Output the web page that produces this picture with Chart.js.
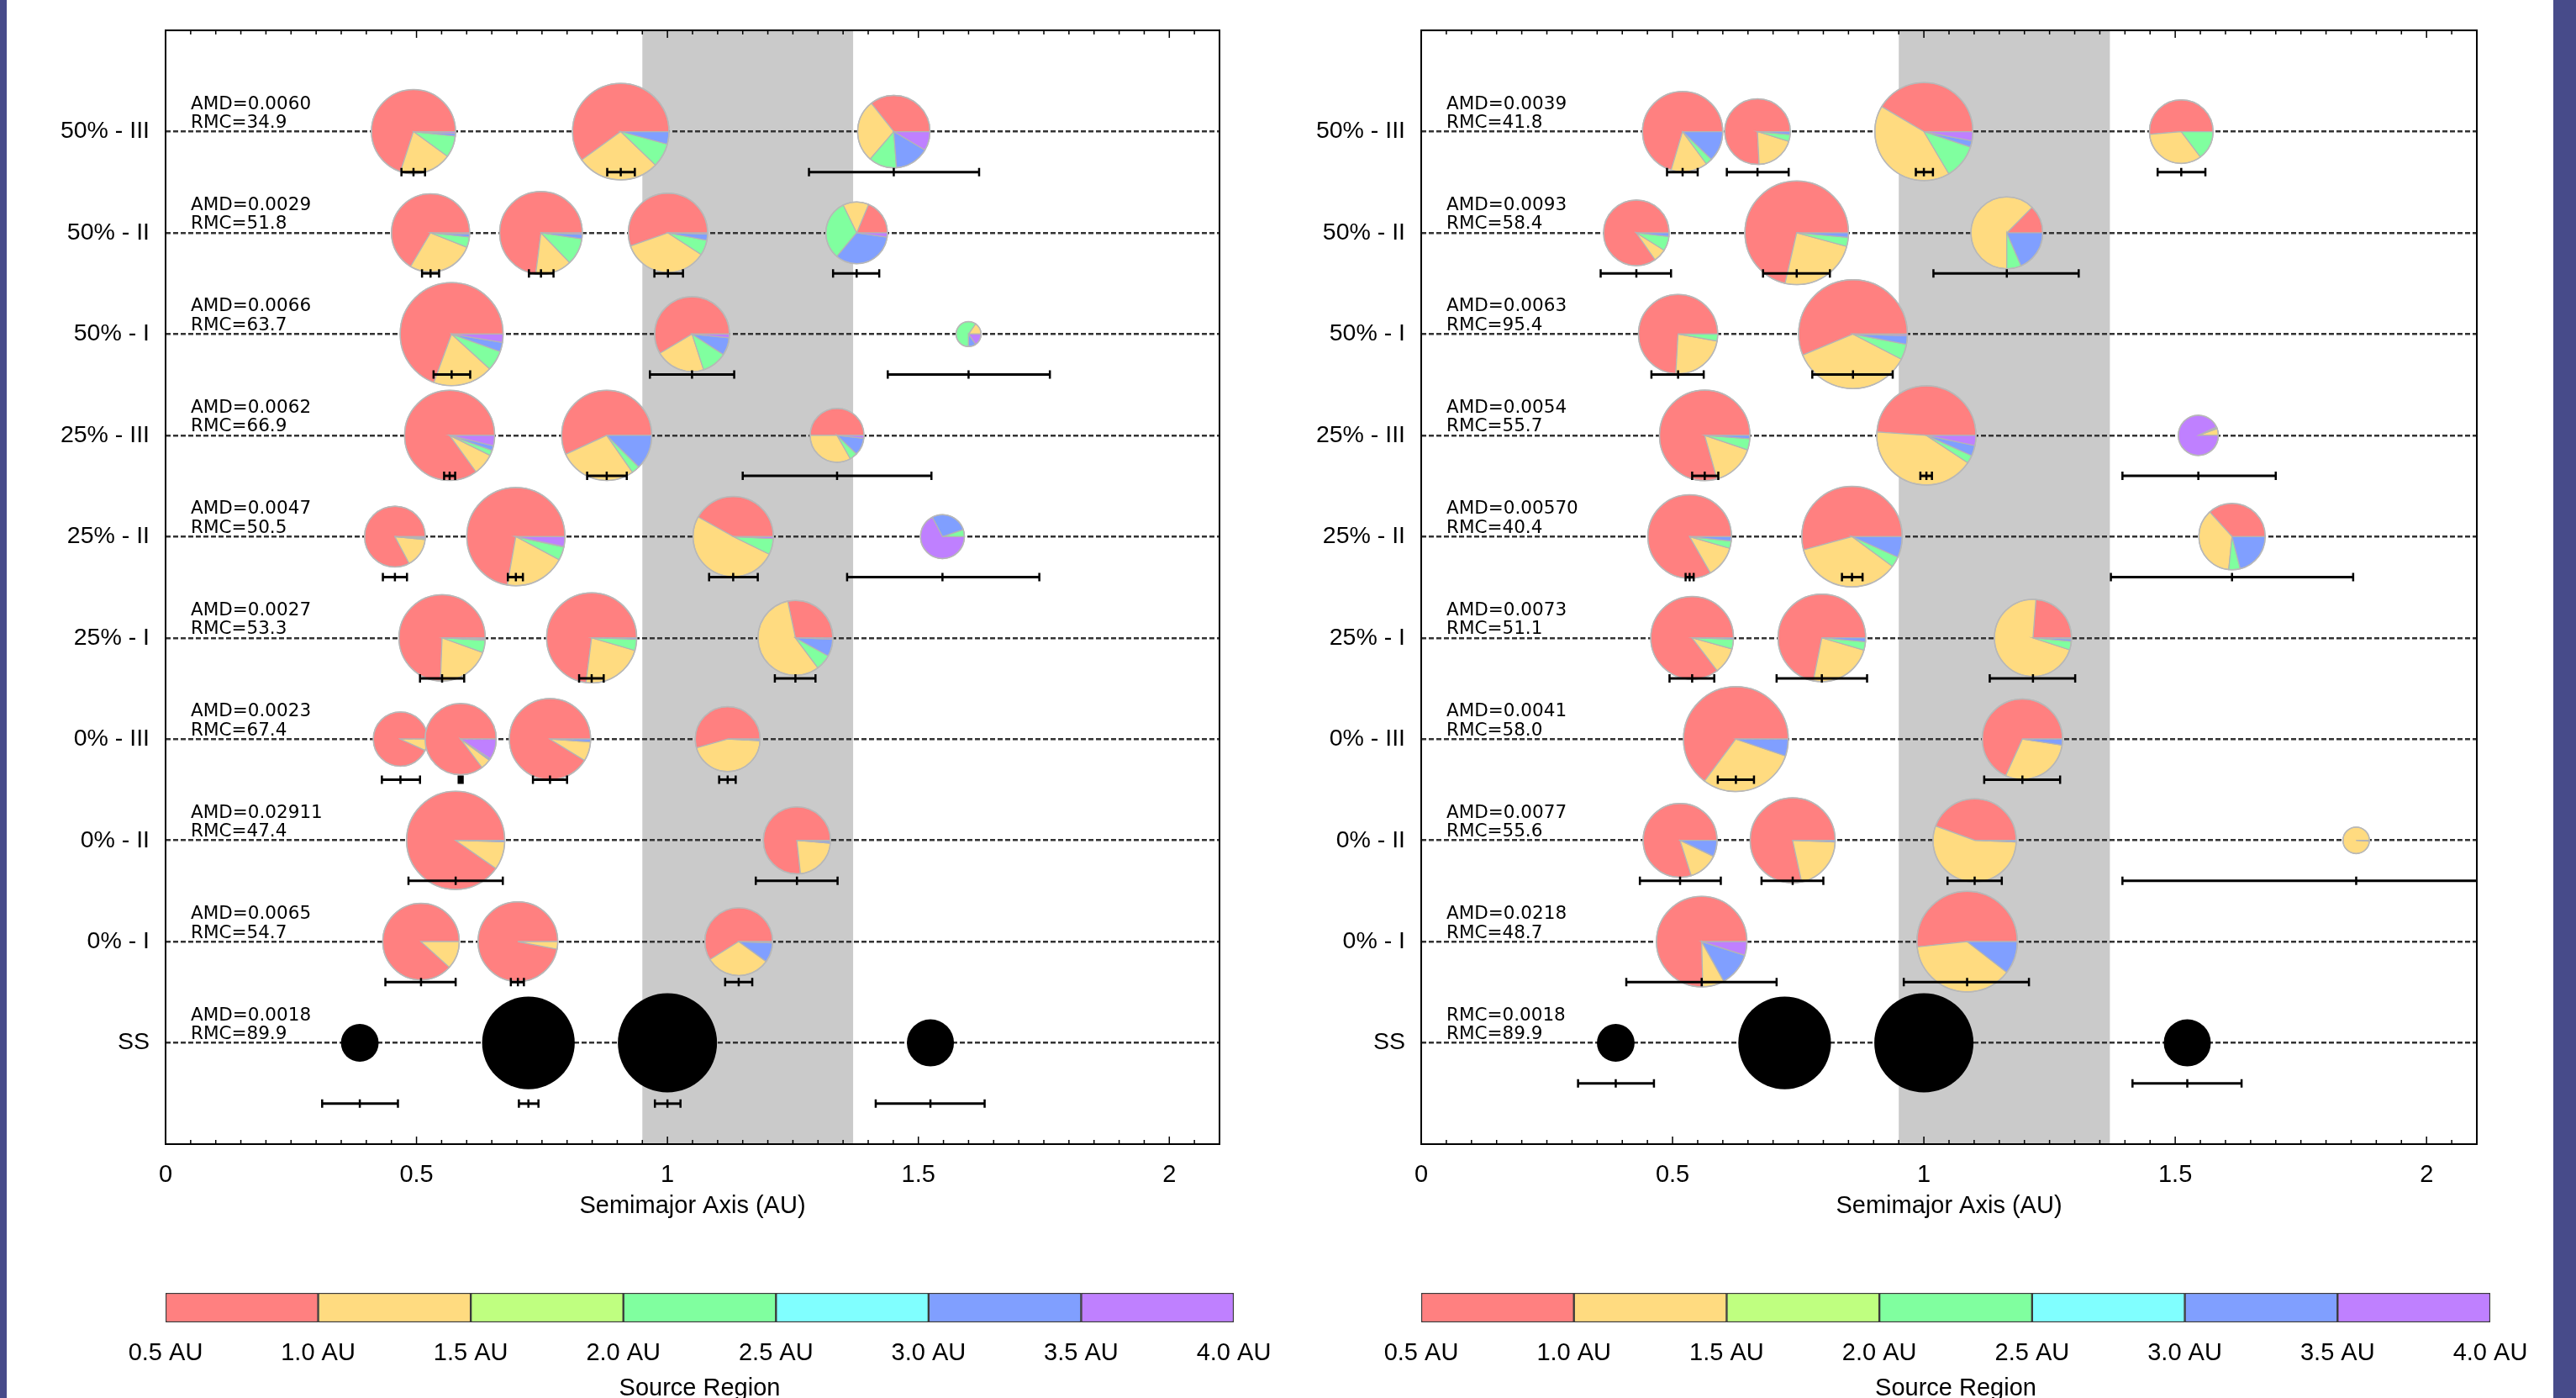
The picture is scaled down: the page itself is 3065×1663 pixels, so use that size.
<!DOCTYPE html>
<html>
<head>
<meta charset="utf-8">
<title>Source regions of simulated terrestrial planets</title>
<script src="https://cdn.jsdelivr.net/npm/chart.js@4.4.1/dist/chart.umd.min.js"></script>
<style>
  html, body { margin: 0; padding: 0; background: #fff; }
  #page { position: relative; width: 3065px; height: 1663px; overflow: hidden; background: #fff; }
  #page canvas { position: absolute; }
  .edge { position: absolute; top: 0; height: 1663px; background: #474b8a; }
</style>
</head>
<body>
<div id="page">
  <canvas id="panelL" width="1480" height="1480" style="left:0;top:0"></canvas>
  <canvas id="panelR" width="1480" height="1480" style="left:1494px;top:0"></canvas>
  <canvas id="barL" width="1560" height="180" style="left:0;top:1500px"></canvas>
  <canvas id="barR" width="1560" height="180" style="left:1494px;top:1500px"></canvas>
  <div class="edge" style="left:0;width:8px"></div>
  <div class="edge" style="left:3038px;width:27px"></div>
</div>
<script>
// rows bottom to top (y value = index)
const rowLabels = ['SS', '0% - I', '0% - II', '0% - III', '25% - I', '25% - II', '25% - III', '50% - I', '50% - II', '50% - III'];
const axisTicks = [0, 0.5, 1, 1.5, 2];
const regionEdges = [0.5, 1.0, 1.5, 2.0, 2.5, 3.0, 3.5, 4.0];
const regionColors = ['#ff8080', '#ffdb80', '#bfff80', '#80ff9f', '#80ffff', '#809fff', '#bf80ff'];
const habitableZone = [0.95, 1.37];

const leftAmd = ['AMD=0.0018', 'AMD=0.0065', 'AMD=0.02911', 'AMD=0.0023', 'AMD=0.0027', 'AMD=0.0047', 'AMD=0.0062', 'AMD=0.0066', 'AMD=0.0029', 'AMD=0.0060'];
const leftRmc = ['RMC=89.9', 'RMC=54.7', 'RMC=47.4', 'RMC=67.4', 'RMC=53.3', 'RMC=50.5', 'RMC=66.9', 'RMC=63.7', 'RMC=51.8', 'RMC=34.9'];
const rightAmd = ['RMC=0.0018', 'AMD=0.0218', 'AMD=0.0077', 'AMD=0.0041', 'AMD=0.0073', 'AMD=0.00570', 'AMD=0.0054', 'AMD=0.0063', 'AMD=0.0093', 'AMD=0.0039'];
const rightRmc = ['RMC=89.9', 'RMC=48.7', 'RMC=55.6', 'RMC=58.0', 'RMC=51.1', 'RMC=40.4', 'RMC=55.7', 'RMC=95.4', 'RMC=58.4', 'RMC=41.8'];

// [a, a min, a max, mass (Earth masses)]
const solarSystem = [
  [0.387, 0.312, 0.463, 0.055],
  [0.723, 0.704, 0.743, 0.815],
  [1.000, 0.975, 1.026, 1.000],
  [1.524, 1.415, 1.632, 0.107]
];

// [row, a, a min, a max, mass, fraction from each source region (0.5-1.0 ... 3.5-4.0 AU)]
const leftPlanets = [
  [9, 0.494, 0.470, 0.517, 0.61, [.70, .20, 0, .083, 0, .010, .007]],
  [9, 0.907, 0.880, 0.935, 0.92, [.60, .278, 0, .080, 0, .042, 0]],
  [9, 1.451, 1.282, 1.621, 0.39, [.357, .28, 0, .125, 0, .153, .085]],
  [8, 0.528, 0.511, 0.545, 0.49, [.665, .275, 0, .043, 0, .012, .005]],
  [8, 0.748, 0.724, 0.773, 0.58, [.73, .142, 0, .105, 0, .018, .005]],
  [8, 1.001, 0.974, 1.031, 0.51, [.554, .354, 0, .062, 0, .025, .005]],
  [8, 1.377, 1.330, 1.422, 0.24, [.187, .135, 0, .317, 0, .339, .022]],
  [7, 0.570, 0.534, 0.607, 1.12, [.694, .188, 0, .063, 0, .029, .026]],
  [7, 1.049, 0.965, 1.133, 0.43, [.586, .214, 0, .108, 0, .076, .016]],
  [7, 1.600, 1.439, 1.762, 0.016, [0, .155, 0, .594, 0, .098, .153]],
  [6, 0.566, 0.555, 0.577, 0.75, [.85, .077, 0, .019, 0, .017, .037]],
  [6, 0.879, 0.840, 0.919, 0.75, [.569, .278, 0, .029, 0, .124, 0]],
  [6, 1.338, 1.150, 1.526, 0.16, [.50, .332, 0, .047, 0, .104, .017]],
  [5, 0.457, 0.433, 0.481, 0.23, [.828, .156, 0, .008, 0, 0, .008]],
  [5, 0.698, 0.682, 0.712, 0.97, [.722, .20, 0, .044, 0, .002, .032]],
  [5, 1.131, 1.083, 1.180, 0.53, [.419, .509, 0, .064, 0, 0, .008]],
  [5, 1.548, 1.358, 1.741, 0.087, [0, 0, 0, .052, 0, .275, .673]],
  [4, 0.551, 0.507, 0.595, 0.66, [.744, .201, 0, .046, 0, .005, .004]],
  [4, 0.849, 0.824, 0.873, 0.75, [.73, .225, 0, .040, 0, .005, 0]],
  [4, 1.255, 1.214, 1.295, 0.43, [.283, .569, 0, .068, 0, .074, .006]],
  [3, 0.468, 0.431, 0.507, 0.164, [.932, .068, 0, 0, 0, 0, 0]],
  [3, 0.588, 0.584, 0.592, 0.37, [.853, .046, 0, 0, 0, .008, .093]],
  [3, 0.766, 0.732, 0.800, 0.55, [.912, .077, 0, 0, 0, .011, 0]],
  [3, 1.120, 1.103, 1.136, 0.28, [.544, .448, 0, 0, 0, .008, 0]],
  [2, 0.578, 0.484, 0.672, 0.97, [.903, .092, 0, 0, 0, .005, 0]],
  [2, 1.258, 1.176, 1.339, 0.31, [.767, .219, 0, 0, 0, .010, .004]],
  [1, 0.509, 0.438, 0.578, 0.46, [.883, .117, 0, 0, 0, 0, 0]],
  [1, 0.702, 0.688, 0.714, 0.52, [.97, .03, 0, 0, 0, 0, 0]],
  [1, 1.142, 1.115, 1.169, 0.32, [.589, .311, 0, 0, 0, .094, .006]]
];

const rightPlanets = [
  [9, 0.520, 0.489, 0.550, 0.53, [.704, .147, 0, .027, 0, .122, 0]],
  [9, 0.669, 0.608, 0.731, 0.29, [.758, .194, 0, .033, 0, .015, 0]],
  [9, 1.000, 0.984, 1.018, 0.965, [.415, .42, 0, .114, 0, .021, .030]],
  [9, 1.512, 1.465, 1.560, 0.265, [.514, .339, 0, .147, 0, 0, 0]],
  [8, 0.428, 0.357, 0.497, 0.29, [.847, .064, 0, .071, 0, .018, 0]],
  [8, 0.747, 0.680, 0.813, 1.14, [.714, .244, 0, .028, 0, .014, 0]],
  [8, 1.165, 1.019, 1.308, 0.38, [.126, .624, 0, .065, 0, .185, 0]],
  [7, 0.511, 0.458, 0.562, 0.51, [.741, .231, 0, .028, 0, 0, 0]],
  [7, 0.859, 0.778, 0.938, 1.32, [.563, .361, 0, .046, 0, .025, .005]],
  [6, 0.564, 0.539, 0.591, 0.76, [.794, .154, 0, .040, 0, .012, 0]],
  [6, 1.005, 0.993, 1.016, 1.00, [.489, .418, 0, .026, 0, .034, .033]],
  [6, 1.546, 1.395, 1.700, 0.066, [0, .055, 0, .010, 0, .005, .93]],
  [5, 0.534, 0.526, 0.542, 0.60, [.833, .122, 0, .028, 0, .017, 0]],
  [5, 0.857, 0.837, 0.878, 1.04, [.543, .356, 0, .034, 0, .067, 0]],
  [5, 1.613, 1.372, 1.854, 0.30, [.367, .367, 0, .056, 0, .21, 0]],
  [4, 0.539, 0.494, 0.583, 0.58, [.854, .103, 0, .038, 0, .005, 0]],
  [4, 0.797, 0.707, 0.887, 0.69, [.719, .236, 0, .031, 0, .014, 0]],
  [4, 1.217, 1.131, 1.301, 0.47, [.238, .712, 0, .036, 0, .010, .004]],
  [3, 0.626, 0.590, 0.662, 1.18, [.648, .30, 0, 0, 0, .052, 0]],
  [3, 1.196, 1.120, 1.271, 0.53, [.682, .294, 0, 0, 0, .024, 0]],
  [2, 0.515, 0.435, 0.596, 0.415, [.799, .13, 0, 0, 0, .071, 0]],
  [2, 0.739, 0.677, 0.800, 0.63, [.784, .21, 0, 0, 0, .006, 0]],
  [2, 1.101, 1.047, 1.155, 0.59, [.444, .55, 0, 0, 0, .006, 0]],
  [2, 1.860, 1.395, 2.325, 0.019, [0, .99, 0, 0, 0, 0, .01]],
  [1, 0.558, 0.408, 0.707, 0.76, [.754, .077, 0, 0, 0, .12, .049]],
  [1, 1.086, 0.960, 1.209, 1.04, [.517, .378, 0, 0, 0, .105, 0]]
];

const R_EARTH_PX = 59;   // pie radius of a 1 Earth mass planet
const AXIS_FONT = { family: "'Liberation Sans', Arial, sans-serif", size: 29 };

function toPoints(planets) {
  return planets.map(p => ({ x: p[1], y: p[0], lo: p[2], hi: p[3], m: p[4], mix: p[5] }));
}
function ssPoints() {
  return solarSystem.map(p => ({ x: p[0], y: 0, lo: p[1], hi: p[2], m: p[3], mix: null }));
}

const hzBand = {
  id: 'hzBand',
  beforeDraw(chart) {
    const { ctx, chartArea: a, scales: { x } } = chart;
    const x0 = x.getPixelForValue(habitableZone[0]);
    const x1 = x.getPixelForValue(habitableZone[1]);
    ctx.save();
    ctx.fillStyle = '#cacaca';
    ctx.fillRect(x0, a.top, x1 - x0, a.bottom - a.top);
    ctx.restore();
  }
};

const pies = {
  id: 'pies',
  afterDatasetsDraw(chart, args, opts) {
    const { ctx, chartArea: a, scales: { x, y } } = chart;
    ctx.save();
    ctx.beginPath();
    ctx.rect(a.left, a.top, a.right - a.left, a.bottom - a.top);
    ctx.clip();
    const all = [];
    chart.data.datasets.forEach((ds, di) => {
      chart.getDatasetMeta(di).data.forEach((el, i) => all.push([el, ds.data[i]]));
    });
    all.forEach(([el, p]) => {
      const r = el.options.radius;
      if (!p.mix) {
        ctx.beginPath();
        ctx.arc(el.x, el.y, r, 0, Math.PI * 2);
        ctx.fillStyle = '#000';
        ctx.fill();
        return;
      }
      const tot = p.mix.reduce((s, v) => s + v, 0);
      let start = 0;
      p.mix.forEach((f, k) => {
        if (f <= 0) return;
        const end = start - f / tot * Math.PI * 2;
        ctx.beginPath();
        ctx.moveTo(el.x, el.y);
        ctx.arc(el.x, el.y, r, start, end, true);
        ctx.closePath();
        ctx.fillStyle = regionColors[k];
        ctx.fill();
        ctx.strokeStyle = '#b4b4b4';
        ctx.lineWidth = 1.2;
        ctx.stroke();
        start = end;
      });
      ctx.beginPath();
      ctx.arc(el.x, el.y, r, 0, Math.PI * 2);
      ctx.strokeStyle = '#b8b8b8';
      ctx.lineWidth = 1.5;
      ctx.stroke();
    });
    // spread in semimajor axis, below each planet
    ctx.strokeStyle = '#000';
    all.forEach(([el, p]) => {
      const drop = p.mix ? opts.drop : opts.ssDrop;
      const yy = y.getPixelForValue(p.y - drop);
      const xl = x.getPixelForValue(p.lo), xr = x.getPixelForValue(p.hi);
      ctx.lineWidth = 3;
      ctx.beginPath();
      ctx.moveTo(xl, yy); ctx.lineTo(xr, yy);
      ctx.stroke();
      ctx.lineWidth = 2.5;
      ctx.beginPath();
      [xl, el.x, xr].forEach(xx => { ctx.moveTo(xx, yy - 5); ctx.lineTo(xx, yy + 5); });
      ctx.stroke();
    });
    ctx.restore();
  }
};

const notes = {
  id: 'notes',
  afterDraw(chart, args, opts) {
    const { ctx, chartArea: a, scales: { y } } = chart;
    ctx.save();
    ctx.font = "21.5px 'DejaVu Sans', sans-serif";
    ctx.fillStyle = '#000';
    ctx.textBaseline = 'alphabetic';
    opts.top.forEach((t, i) => {
      const yy = y.getPixelForValue(i);
      ctx.fillText(t, a.left + 30, yy - 27);
      ctx.fillText(opts.bottom[i], a.left + 30, yy - 4.5);
    });
    ctx.restore();
  }
};

const frame = {
  id: 'frame',
  afterDraw(chart) {
    const { ctx, chartArea: a, scales: { x } } = chart;
    ctx.save();
    ctx.strokeStyle = '#000';
    ctx.lineWidth = 1.5;
    ctx.beginPath();
    for (let i = 0; i * 0.05 <= x.max + 1e-9; i++) {
      const xx = x.getPixelForValue(i * 0.05);
      const len = i % 10 === 0 ? 9 : 5;
      ctx.moveTo(xx, a.bottom); ctx.lineTo(xx, a.bottom - len);
      ctx.moveTo(xx, a.top); ctx.lineTo(xx, a.top + len);
    }
    ctx.stroke();
    ctx.lineWidth = 2;
    ctx.strokeRect(a.left, a.top, a.right - a.left, a.bottom - a.top);
    ctx.restore();
  }
};

function panel(id, planets, amdText, rmcText, padRight, ssDrop) {
  return new Chart(document.getElementById(id), {
    type: 'scatter',
    data: { datasets: [{ data: toPoints(planets) }, { data: ssPoints() }] },
    options: {
      responsive: false,
      animation: false,
      events: [],
      layout: { autoPadding: false, padding: { top: 36, right: padRight, left: 0, bottom: 0 } },
      elements: {
        point: {
          radius: c => R_EARTH_PX * Math.cbrt(c.raw.m),
          backgroundColor: 'rgba(0,0,0,0)',
          borderWidth: 0
        }
      },
      scales: {
        x: {
          type: 'linear', min: 0, max: 2.1,
          afterBuildTicks: s => { s.ticks = axisTicks.map(v => ({ value: v })); },
          afterFit: s => { s.height = 119; },
          grid: { display: false },
          border: { display: false },
          ticks: { color: '#000', padding: 12, font: AXIS_FONT, maxRotation: 0, autoSkip: false, callback: v => String(v) },
          title: { display: true, text: 'Semimajor Axis (AU)', color: '#000', font: AXIS_FONT, padding: { top: 0, bottom: 27.6 } }
        },
        y: {
          type: 'linear', min: -1, max: 10,
          afterBuildTicks: s => { s.ticks = rowLabels.map((_, i) => ({ value: i })); },
          afterFit: s => { s.width = 197; },
          grid: { color: '#333', lineWidth: 2.5, drawTicks: false },
          border: { display: false, dash: [6, 3] },
          ticks: { color: '#000', padding: 19, font: { family: AXIS_FONT.family, size: 28.5 }, callback: v => rowLabels[v] }
        }
      },
      plugins: {
        legend: { display: false },
        tooltip: { enabled: false },
        pies: { drop: 0.4, ssDrop: ssDrop },
        notes: { top: amdText, bottom: rmcText }
      }
    },
    plugins: [hzBand, pies, notes, frame]
  });
}

function colorBar(id, padRight) {
  return new Chart(document.getElementById(id), {
    type: 'bar',
    data: {
      labels: [''],
      datasets: regionColors.map((c, k) => ({
        data: [[regionEdges[k], regionEdges[k + 1]]],
        backgroundColor: c,
        borderColor: '#3a3a3a',
        borderWidth: 1.5,
        borderSkipped: false,
        barPercentage: 1,
        categoryPercentage: 1,
        grouped: false
      }))
    },
    options: {
      indexAxis: 'y',
      responsive: false,
      animation: false,
      events: [],
      layout: { autoPadding: false, padding: { top: 38, left: 197, right: padRight, bottom: 0 } },
      scales: {
        x: {
          type: 'linear', min: regionEdges[0], max: regionEdges[regionEdges.length - 1],
          afterBuildTicks: s => { s.ticks = regionEdges.map(v => ({ value: v })); },
          afterFit: s => { s.height = 107; },
          grid: { display: false },
          border: { display: false },
          ticks: { color: '#000', padding: 12, font: AXIS_FONT, maxRotation: 0, autoSkip: false, callback: v => v.toFixed(1) + ' AU' },
          title: { display: true, text: 'Source Region', color: '#000', font: AXIS_FONT, padding: { top: 0, bottom: 10.6 } }
        },
        y: { display: false }
      },
      plugins: { legend: { display: false }, tooltip: { enabled: false } }
    }
  });
}

panel('panelL', leftPlanets, leftAmd, leftRmc, 29, 0.6);
panel('panelR', rightPlanets, rightAmd, rightRmc, 27, 0.4);
colorBar('barL', 92);
colorBar('barR', 91);
</script>
</body>
</html>
